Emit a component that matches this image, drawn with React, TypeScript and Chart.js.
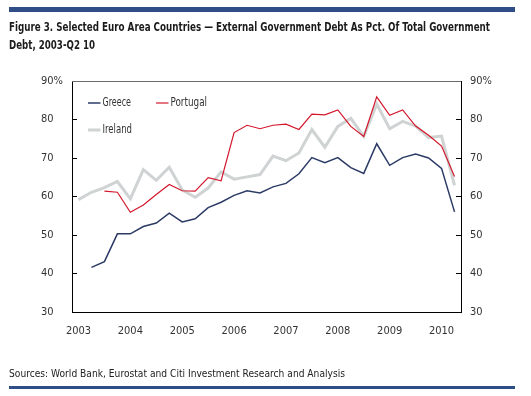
import React, { useEffect, useRef } from "react";
import { Chart, registerables } from "chart.js";

Chart.register(...registerables);

const quarters = [
  "2003Q1", "2003Q2", "2003Q3", "2003Q4",
  "2004Q1", "2004Q2", "2004Q3", "2004Q4",
  "2005Q1", "2005Q2", "2005Q3", "2005Q4",
  "2006Q1", "2006Q2", "2006Q3", "2006Q4",
  "2007Q1", "2007Q2", "2007Q3", "2007Q4",
  "2008Q1", "2008Q2", "2008Q3", "2008Q4",
  "2009Q1", "2009Q2", "2009Q3", "2009Q4",
  "2010Q1", "2010Q2",
];

const greece = [
  null, 41.6, 43.1, 50.3, 50.3, 52.2, 53.1, 55.7, 53.4, 54.2, 57.1, 58.5, 60.3, 61.5, 60.9,
  62.5, 63.4, 65.9, 70.1, 68.8, 70.1, 67.5, 66.0, 73.7, 68.1, 70.1, 71.0, 70.0, 67.3, 56.0,
];
const portugal = [
  null, null, 61.4, 61.1, 55.9, 57.8, 60.5, 63.1, 61.5, 61.4, 64.9, 64.1, 76.6, 78.5, 77.6,
  78.5, 78.8, 77.4, 81.4, 81.2, 82.5, 78.2, 75.6, 85.9, 81.1, 82.5, 78.3, 75.9, 73.1, 65.2,
];
const ireland = [
  59.2, 61.1, 62.3, 63.9, 59.4, 67.0, 64.2, 67.6, 61.7, 59.8, 62.2, 66.4, 64.5, 65.1, 65.7,
  70.5, 69.3, 71.3, 77.4, 72.8, 78.2, 80.3, 75.6, 84.0, 77.6, 79.5, 78.3, 75.3, 75.7, 62.9,
];

const yMin = 30;
const yMax = 90;
const yStep = 10;

const titleLines = [
  "Figure 3. Selected Euro Area Countries \u2014 External Government Debt As Pct. Of Total Government",
  "Debt, 2003-Q2 10",
];
const sourceText = "Sources: World Bank, Eurostat and Citi Investment Research and Analysis";

const FONT = '"Liberation Sans Narrow", "DejaVu Sans Condensed", "Roboto Condensed", sans-serif';
const BLUE = "#2f4d86";
const C_GREECE = "#2c3b66";
const C_PORTUGAL = "#d3172c";
const C_IRELAND = "#cfd3d3";

const decorPlugin = {
  id: "decor",
  afterDraw(chart: any) {
    const ctx = chart.ctx;
    const area = chart.chartArea;
    ctx.save();
    // top & bottom bars
    ctx.fillStyle = BLUE;
    ctx.fillRect(9, 7, 506, 5);
    ctx.fillRect(9, 386, 506, 3);
    // title
    ctx.fillStyle = "#1b1b1b";
    ctx.font = `bold 13px ${FONT}`;
    ctx.textBaseline = "alphabetic";
    ctx.textAlign = "left";
    ctx.fillText(titleLines[0], 9, 31, 481);
    ctx.fillText(titleLines[1], 9, 49, 86);
    // source
    ctx.fillStyle = "#222";
    ctx.font = `10.5px ${FONT}`;
    ctx.fillText(sourceText, 9, 376.5, 336);
    // top border of plot
    ctx.strokeStyle = "#6b6b6b";
    ctx.lineWidth = 1;
    ctx.beginPath();
    ctx.moveTo(area.left, area.top + 0.5);
    ctx.lineTo(area.right, area.top + 0.5);
    ctx.stroke();
    // legend
    const items = [
      { label: "Greece", color: C_GREECE, w: 1.5, x: 88, y: 103, tw: 28.5 },
      { label: "Portugal", color: C_PORTUGAL, w: 1.2, x: 156, y: 103, tw: 36.5 },
      { label: "Ireland", color: C_IRELAND, w: 3, x: 88, y: 130, tw: 29.5 },
    ];
    ctx.font = `11.5px ${FONT}`;
    ctx.textBaseline = "middle";
    for (const it of items) {
      ctx.strokeStyle = it.color;
      ctx.lineWidth = it.w;
      ctx.beginPath();
      ctx.moveTo(it.x, it.y);
      ctx.lineTo(it.x + 12.5, it.y);
      ctx.stroke();
      ctx.fillStyle = "#333";
      ctx.fillText(it.label, it.x + 14.5, it.y + 0.5, it.tw);
    }
    ctx.restore();
  },
};

export default function App() {
  const ref = useRef<HTMLCanvasElement>(null);
  useEffect(() => {
    if (!ref.current) return;
    const tickFont = { family: FONT, size: 11 };
    const chart = new Chart(ref.current, {
      type: "line",
      data: {
        labels: quarters,
        datasets: [
          { label: "Portugal", data: portugal, borderColor: C_PORTUGAL, borderWidth: 1.2, pointRadius: 0, tension: 0, spanGaps: false, yAxisID: "y" },
          { label: "Greece", data: greece, borderColor: C_GREECE, borderWidth: 1.5, pointRadius: 0, tension: 0, yAxisID: "y" },
          { label: "Ireland", data: ireland, borderColor: C_IRELAND, borderWidth: 3, pointRadius: 0, tension: 0, yAxisID: "y" },
        ],
      },
      options: {
        responsive: false,
        animation: false,
        devicePixelRatio: 1,
        layout: { padding: { left: 41, top: 81, right: 0, bottom: 0 } },
        plugins: { legend: { display: false }, tooltip: { enabled: false }, title: { display: false } },
        scales: {
          x: {
            type: "category",
            offset: true,
            grid: { display: false, drawTicks: false },
            border: { display: true, color: "#000", width: 1 },
            ticks: {
              autoSkip: false,
              maxRotation: 0,
              padding: 13,
              color: "#333",
              font: tickFont,
              callback: (_v: any, i: number) => (i % 4 === 0 ? quarters[i].slice(0, 4) : ""),
            },
            afterFit: (s: any) => { s.height = 84; },
          },
          y: {
            position: "left",
            min: yMin,
            max: yMax,
            grid: { drawOnChartArea: false, drawTicks: true, tickLength: -5, color: "#000" },
            border: { display: true, color: "#000", width: 1 },
            ticks: {
              stepSize: yStep,
              crossAlign: "far",
              color: "#333",
              font: tickFont,
              callback: (v: any) => (v === yMax ? `${v}%` : `${v}`),
            },
            afterFit: (s: any) => { s.width = 31; },
          },
          y2: {
            position: "right",
            min: yMin,
            max: yMax,
            grid: { drawOnChartArea: false, drawTicks: true, tickLength: -5, color: "#000" },
            border: { display: true, color: "#000", width: 1 },
            ticks: {
              stepSize: yStep,
              padding: 14,
              color: "#333",
              font: tickFont,
              callback: (v: any) => (v === yMax ? `${v}%` : `${v}`),
            },
            afterFit: (s: any) => { s.width = 70; },
          },
        },
      },
      plugins: [decorPlugin],
    });
    return () => chart.destroy();
  }, []);
  return (
    <div style={{ position: "absolute", left: 0, top: 0, width: 531, height: 396, background: "#fff" }}>
      <canvas ref={ref} width={531} height={396} style={{ display: "block" }} />
    </div>
  );
}
